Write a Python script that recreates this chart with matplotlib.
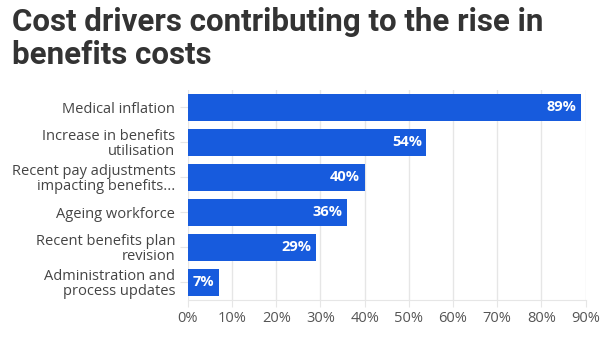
import matplotlib.pyplot as plt
import numpy as np

categories = ['Medical inflation',
              'Increase in benefits\nutilisation',
              'Recent pay adjustments\nimpacting benefits...',
              'Ageing workforce',
              'Recent benefits plan\nrevision',
              'Administration and\nprocess updates']
values = [89, 54, 40, 36, 29, 7]
xticks = [0, 10, 20, 30, 40, 50, 60, 70, 80, 90]

plt.rcParams['font.family'] = ['Open Sans', 'DejaVu Sans']

fig = plt.figure(figsize=(6.08, 3.37), dpi=100)
ax = fig.add_axes([0.309, 0.110, 0.654, 0.623])

y = np.arange(len(categories))
ax.barh(y, values, height=0.78, color='#175bdd', zorder=3)
for yi, v in zip(y, values):
    ax.text(v - 1.0, yi, f'{v}%', ha='right', va='center', color='white',
            fontsize=10.5, fontweight='bold', zorder=4)

ax.set_ylim(len(categories) - 0.5, -0.5)
ax.set_xlim(0, 90)
ax.set_yticks(y)
ax.set_yticklabels(categories, fontsize=10.5, color='#444444', linespacing=0.95)
ax.set_xticks(xticks)
ax.set_xticklabels([f'{t}%' for t in xticks], fontsize=10.5, color='#555555')

ax.grid(axis='x', color='#e6e6e6', linewidth=1, zorder=0)
for s in ['top', 'right', 'left']:
    ax.spines[s].set_visible(False)
ax.spines['bottom'].set_color('#e6e6e6')
ax.tick_params(axis='y', length=6, color='#e6e6e6', pad=3)
ax.tick_params(axis='x', length=5, color='#e6e6e6', pad=3)

fig.text(0.02, 0.98, 'Cost drivers contributing to the rise in\nbenefits costs',
         ha='left', va='top', fontsize=22.5, fontweight='bold', color='#333333',
         linespacing=1.15, family=['Roboto', 'DejaVu Sans'])

fig.savefig('out.png', dpi=100)
